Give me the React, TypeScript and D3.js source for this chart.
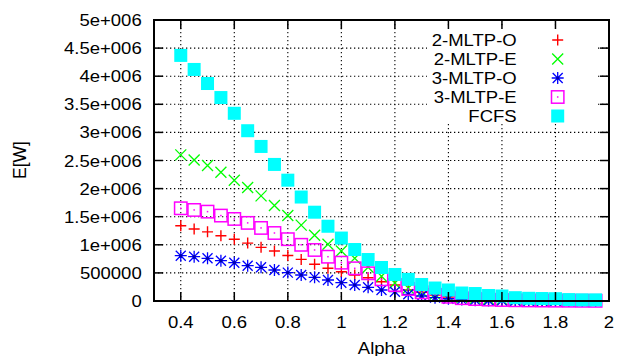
import React from "react";
import * as d3 from "d3";

const alpha = [0.4, 0.45, 0.5, 0.55, 0.6, 0.65, 0.7, 0.75, 0.8, 0.85, 0.9, 0.95, 1.0, 1.05, 1.1, 1.15, 1.2, 1.25, 1.3, 1.35, 1.4, 1.45, 1.5, 1.55, 1.6, 1.65, 1.7, 1.75, 1.8, 1.85, 1.9, 1.95];

const mltp2O = [1340000, 1280000, 1230000, 1160000, 1100000, 1030000, 955000, 890000, 810000, 740000, 653000, 582000, 521000, 463000, 415000, 343000, 285000, 196000, 155000, 105000, 70000, 45000, 30000, 20000, 15000, 11000, 8000, 6000, 5000, 4000, 3000, 2000];
const mltp2E = [2600000, 2510000, 2410000, 2290000, 2150000, 2020000, 1870000, 1700000, 1520000, 1350000, 1170000, 1010000, 890000, 760000, 600000, 440000, 320000, 230000, 165000, 120000, 85000, 60000, 42000, 30000, 22000, 16000, 12000, 9000, 7000, 5000, 4000, 3000];
const mltp3O = [806000, 788000, 760000, 717000, 682000, 628000, 600000, 552000, 505000, 463000, 421000, 374000, 326000, 285000, 244000, 196000, 166000, 119000, 89000, 60000, 40000, 25000, 15000, 10000, 7000, 5000, 4000, 3000, 2000, 1500, 1000, 1000];
const mltp3E = [1650000, 1620000, 1590000, 1520000, 1460000, 1390000, 1300000, 1210000, 1100000, 1000000, 908000, 788000, 682000, 582000, 493000, 386000, 285000, 214000, 155000, 110000, 75000, 50000, 35000, 25000, 18000, 13000, 10000, 8000, 6000, 5000, 4000, 3000];
const fcfs = [4370000, 4120000, 3870000, 3620000, 3340000, 3030000, 2750000, 2430000, 2150000, 1850000, 1580000, 1330000, 1120000, 916000, 738000, 596000, 472000, 385000, 294000, 231000, 196000, 142000, 133000, 98000, 89000, 59000, 48000, 44000, 41000, 25000, 21000, 20000];

const seriesNames = ["2-MLTP-O", "2-MLTP-E", "3-MLTP-O", "3-MLTP-E", "FCFS"];
const seriesValues = [mltp2O, mltp2E, mltp3O, mltp3E, fcfs];
const seriesColors = ["#ff0000", "#00ff00", "#0000ff", "#ff00ff", "#00ffff"];
const seriesShapes = ["plus", "cross", "star", "box", "fbox"];

const xTicks = [0.4, 0.6, 0.8, 1.0, 1.2, 1.4, 1.6, 1.8, 2.0];
const xTickLabels = ["0.4", "0.6", "0.8", "1", "1.2", "1.4", "1.6", "1.8", "2"];
const yTicks = [0, 500000, 1000000, 1500000, 2000000, 2500000, 3000000, 3500000, 4000000, 4500000, 5000000];
const yTickLabels = ["0", "500000", "1e+006", "1.5e+006", "2e+006", "2.5e+006", "3e+006", "3.5e+006", "4e+006", "4.5e+006", "5e+006"];

const W = 617, H = 356;
const L = 154, R = 609, T = 20, B = 301;
const FONT = "'Liberation Sans', Arial, sans-serif";
const FS = 17;
const SX = 1.09;

function Marker({ shape, x, y, color }: { shape: string; x: number; y: number; color: string }) {
  const s = 5.5;
  if (shape === "plus") {
    return <path d={`M${x - s},${y}H${x + s}M${x},${y - s}V${y + s}`} stroke={color} strokeWidth={1.4} fill="none" />;
  }
  if (shape === "cross") {
    return <path d={`M${x - s},${y - s}L${x + s},${y + s}M${x - s},${y + s}L${x + s},${y - s}`} stroke={color} strokeWidth={1.3} fill="none" />;
  }
  if (shape === "star") {
    const t = 6;
    return (
      <g>
        <path d={`M${x - t},${y}H${x + t}M${x},${y - t}V${y + t}M${x - 5},${y - 5}L${x + 5},${y + 5}M${x - 5},${y + 5}L${x + 5},${y - 5}`} stroke={color} strokeWidth={1.3} fill="none" />
        <circle cx={x} cy={y} r={1.6} fill="#0000aa" />
      </g>
    );
  }
  if (shape === "box") {
    const h = 6.2;
    return (
      <g>
        <rect x={x - h} y={y - h} width={2 * h} height={2 * h} stroke={color} strokeWidth={1.5} fill="none" />
        <rect x={x - 0.75} y={y - 0.75} width={1.5} height={1.5} fill={color} />
      </g>
    );
  }
  const h = 6.5;
  return <rect x={x - h} y={y - h} width={2 * h} height={2 * h} fill={color} />;
}

function SText({ x, y, anchor, children, size = FS, sx = SX }: any) {
  return (
    <text transform={`translate(${x},${y}) scale(${sx},1)`} textAnchor={anchor} fontFamily={FONT} fontSize={size} fill="#000">
      {children}
    </text>
  );
}

export default function App() {
  const x = d3.scaleLinear().domain([0.3, 2.0]).range([L, R]);
  const y = d3.scaleLinear().domain([0, 5000000]).range([B, T]);

  const legendX = 516.7;
  const legendMarkerX = 557.7;
  const legendY0 = 40;
  const legendStep = 19;

  return (
    <svg width={W} height={H} style={{ position: "absolute", left: 0, top: 0, background: "#fff" }}>
      <rect x={0} y={0} width={W} height={H} fill="#fff" />
      {/* grid */}
      <g stroke="#000" strokeWidth={1.1} strokeDasharray="1.3,2.7">
        {xTicks.filter((t) => t < 2).map((t) => (
          <line key={"gx" + t} x1={x(t)} x2={x(t)} y1={T} y2={B} />
        ))}
        {yTicks.filter((t) => t > 0 && t < 5000000).map((t) => (
          <line key={"gy" + t} x1={L} x2={R} y1={y(t)} y2={y(t)} />
        ))}
      </g>
      {/* legend box */}
      <rect x={427} y={27} width={170} height={97} fill="#fff" />
      {/* data */}
      {seriesValues.map((vals, si) => (
        <g key={"s" + si}>
          {vals.map((v, i) => (
            <Marker key={i} shape={seriesShapes[si]} x={x(alpha[i])} y={y(v)} color={seriesColors[si]} />
          ))}
        </g>
      ))}
      {/* legend */}
      {seriesNames.map((n, i) => {
        const cy = legendY0 + i * legendStep;
        return (
          <g key={"l" + i}>
            <SText x={legendX} y={cy + 6} anchor="end">{n}</SText>
            <Marker shape={seriesShapes[i]} x={legendMarkerX} y={cy} color={seriesColors[i]} />
          </g>
        );
      })}
      {/* border and ticks */}
      <g stroke="#000" strokeWidth={1.5} fill="none">
        {xTicks.map((t) => (
          <g key={"tx" + t}>
            <line x1={x(t)} x2={x(t)} y1={B} y2={B - 9} />
            <line x1={x(t)} x2={x(t)} y1={T} y2={T + 9} />
          </g>
        ))}
        {yTicks.map((t) => (
          <g key={"ty" + t}>
            <line x1={L} x2={L + 9} y1={y(t)} y2={y(t)} />
            <line x1={R} x2={R - 9} y1={y(t)} y2={y(t)} />
          </g>
        ))}
        <rect x={L} y={T} width={R - L} height={B - T} strokeWidth={2} />
      </g>
      {/* tick labels */}
      {xTicks.map((t, i) => (
        <SText key={"xl" + t} x={x(t)} y={327.5} anchor="middle">{xTickLabels[i]}</SText>
      ))}
      {yTicks.map((t, i) => (
        <SText key={"yl" + t} x={141.7} y={y(t) + 6} anchor="end">{yTickLabels[i]}</SText>
      ))}
      <SText x={381.5} y={353.5} anchor="middle">Alpha</SText>
      <text transform={`translate(26,160) rotate(-90)`} textAnchor="middle" fontFamily={FONT} fontSize={17.5} fill="#000">E[W]</text>
    </svg>
  );
}
